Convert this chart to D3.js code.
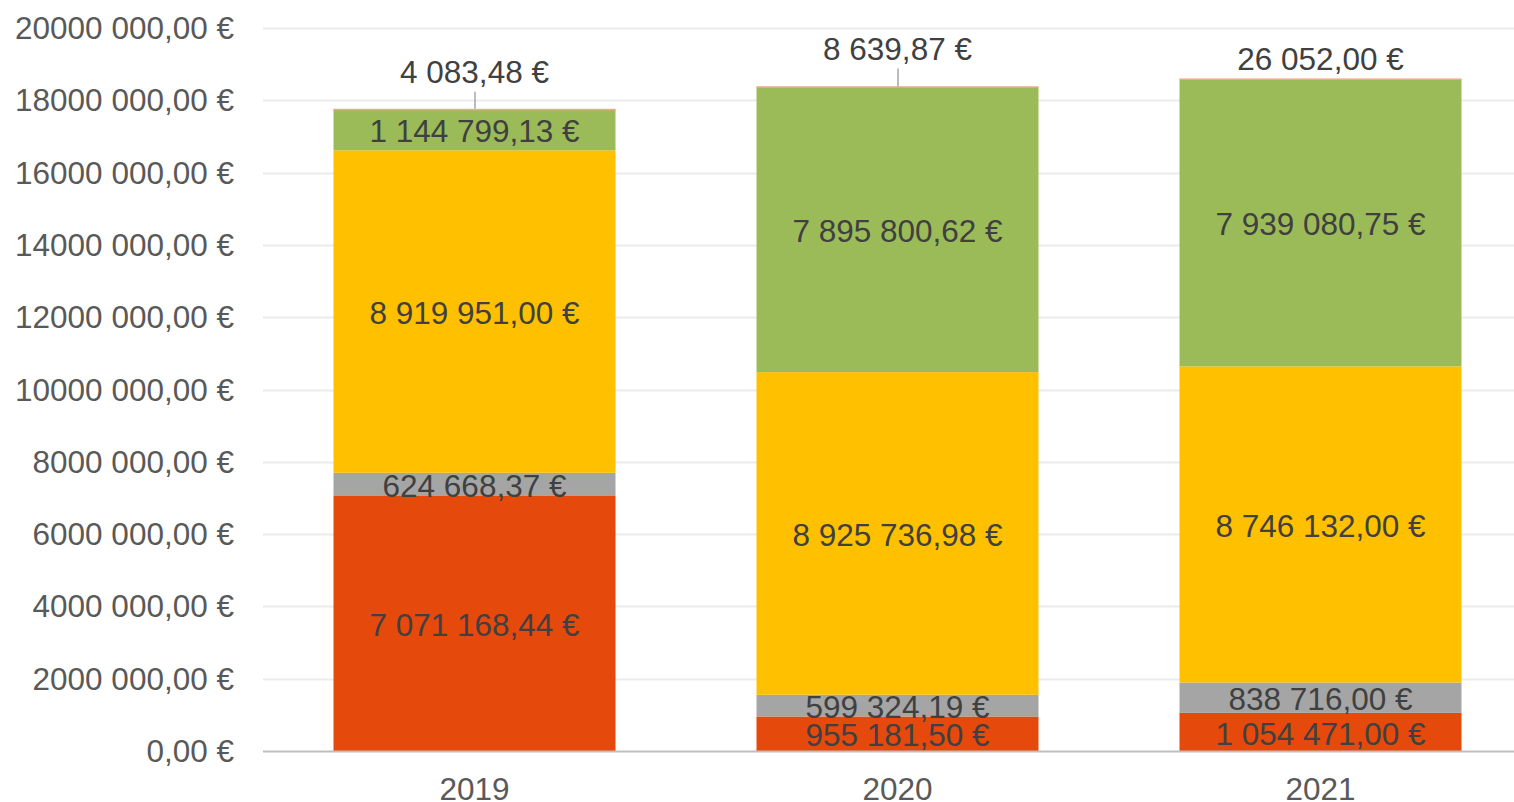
<!DOCTYPE html>
<html>
<head>
<meta charset="utf-8">
<script src="https://cdn.jsdelivr.net/npm/d3@7"></script>
<style>
  html, body { margin: 0; padding: 0; background: #fff; overflow: hidden; }
  text { font-family: "Liberation Sans", Arial, sans-serif; }
</style>
</head>
<body>
<div id="chart"></div>
<script>
"use strict";

// data
const years = ['2019', '2020', '2021'];
const serieRouge  = [7071168.44, 955181.50, 1054471.00];
const serieGris   = [624668.37, 599324.19, 838716.00];
const serieJaune  = [8919951.00, 8925736.98, 8746132.00];
const serieVert   = [1144799.13, 7895800.62, 7939080.75];
const serieSaumon = [4083.48, 8639.87, 26052.00];
const yTickValues = [0, 2e6, 4e6, 6e6, 8e6, 10e6, 12e6, 14e6, 16e6, 18e6, 20e6];

const seriesKeys = ['rouge', 'gris', 'jaune', 'vert', 'saumon'];
const colors = {rouge: '#E6490C', gris: '#A5A5A5', jaune: '#FFC000', vert: '#9BBB59', saumon: '#F4A58A'};

// labels of the thin top segment were dragged up in the original
const topLift = [38, 39, 21];
const topLeader = [true, true, false];

const W = 1514, H = 802;
const margin = {left: 263, top: 28, bottom: 51};

const rows = years.map((y, i) => ({
    year: y,
    rouge: serieRouge[i], gris: serieGris[i], jaune: serieJaune[i],
    vert: serieVert[i], saumon: serieSaumon[i]
}));

const svg = d3.select('#chart').append('svg').attr('width', W).attr('height', H);

const x = d3.scaleBand().domain(years).range([margin.left, 1532]).paddingInner(1/3).paddingOuter(1/6);
const y = d3.scaleLinear().domain([0, 20e6]).range([H - margin.bottom, margin.top]);

const loc = d3.formatLocale({decimal: ',', thousands: ' ', grouping: [3], currency: ['', ' €']});
const fmt = v => loc.format(',.2f')(v) + ' €';
const axisFmt = v => {
    if (v === 0) return '0,00 €';
    const head = Math.floor(v / 1000);
    return head + ' ' + String(v % 1000).padStart(3, '0') + ',00 €';
};

// gridlines
svg.append('g').selectAll('line')
   .data(yTickValues.filter(d => d > 0)).enter()
   .append('line')
   .attr('x1', margin.left).attr('x2', W)
   .attr('y1', d => Math.round(y(d)) + 0.5).attr('y2', d => Math.round(y(d)) + 0.5)
   .attr('stroke', '#EBEBEB').attr('stroke-width', 2);

// y labels
svg.append('g').selectAll('text')
   .data(yTickValues).enter()
   .append('text')
   .attr('x', 234).attr('y', d => y(d)).attr('dy', '0.35em')
   .attr('text-anchor', 'end')
   .attr('font-size', 31.5).attr('fill', '#595959')
   .text(axisFmt);

const stack = d3.stack().keys(seriesKeys)(rows);

const layers = svg.append('g').selectAll('g')
   .data(stack).enter()
   .append('g').attr('fill', d => colors[d.key]);

layers.selectAll('rect')
   .data(d => d).enter()
   .append('rect')
   .attr('x', d => x(d.data.year))
   .attr('width', x.bandwidth())
   .attr('y', d => y(d[1]))
   .attr('height', d => Math.max(y(d[0]) - y(d[1]), 1.5));

// baseline
svg.append('line')
   .attr('x1', margin.left).attr('x2', W)
   .attr('y1', y(0) + 0.5).attr('y2', y(0) + 0.5)
   .attr('stroke', '#BFBFBF').attr('stroke-width', 2);

// x labels
svg.append('g').selectAll('text')
   .data(years).enter()
   .append('text')
   .attr('x', d => x(d) + x.bandwidth() / 2).attr('y', 789).attr('dy', '0.35em')
   .attr('text-anchor', 'middle')
   .attr('font-size', 31.5).attr('fill', '#595959')
   .text(d => d);

// data labels
const cx = d => x(d.data.year) + x.bandwidth() / 2;
stack.forEach(layer => {
    const g = svg.append('g');
    layer.forEach((d, i) => {
        const v = d[1] - d[0];
        let ly = (y(d[0]) + y(d[1])) / 2;
        if (layer.key === 'saumon') {
            ly = y(d[1]) - topLift[i];
            if (topLeader[i]) {
                g.append('line')
                 .attr('x1', cx(d) + 0.5).attr('x2', cx(d) + 0.5)
                 .attr('y1', ly + 21).attr('y2', y(d[1]))
                 .attr('stroke', '#A6A6A6').attr('stroke-width', 1.5);
            }
        }
        g.append('text')
         .attr('x', cx(d)).attr('y', ly).attr('dy', '0.4em')
         .attr('text-anchor', 'middle')
         .attr('font-size', 31.5).attr('fill', '#404040')
         .text(fmt(v));
    });
});
</script>
</body>
</html>
